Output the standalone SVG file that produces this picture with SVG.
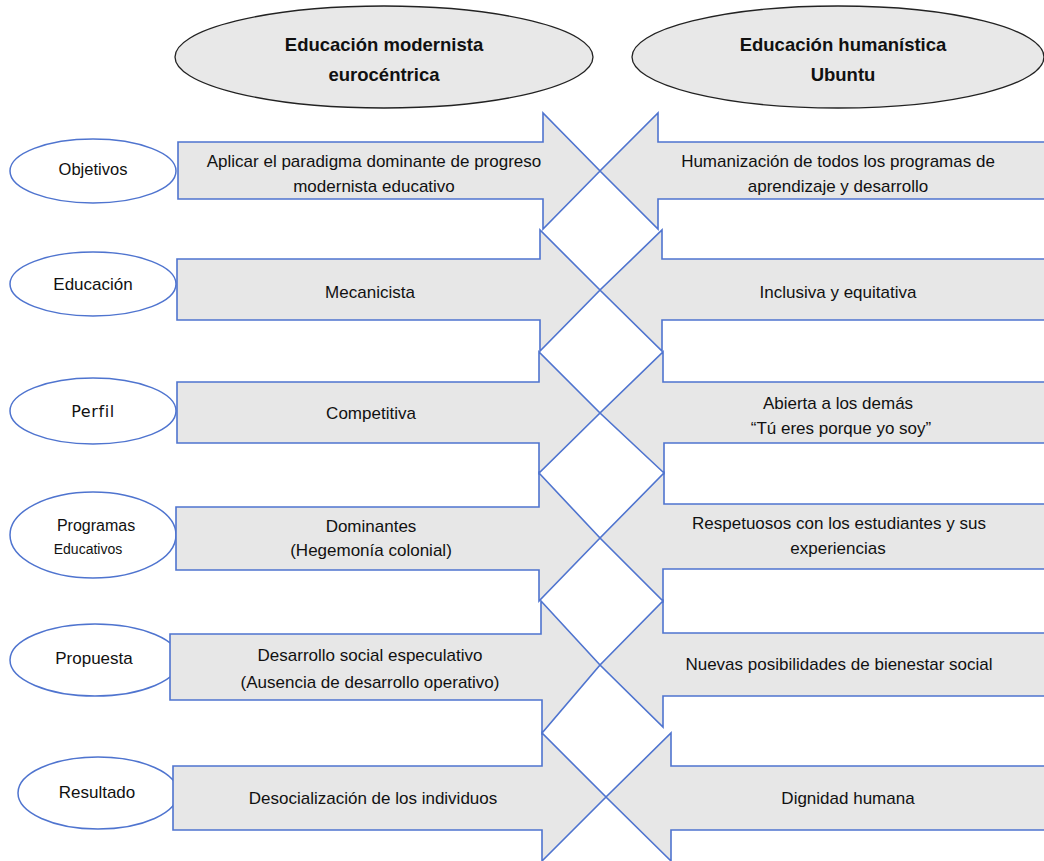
<svg xmlns="http://www.w3.org/2000/svg" xmlns:xlink="http://www.w3.org/1999/xlink" width="1044" height="861" viewBox="0 0 1044 861">
<style>
  .hdr{fill:#e8e8e8;stroke:#222;stroke-width:1.3}
  .cat{fill:#fff;stroke:#4f74cf;stroke-width:1.5}
  .arr{fill:#e7e7e7;stroke:none}
  .out{fill:none;stroke:#4f74cf;stroke-width:1.6;stroke-linejoin:miter}
  text{font-family:"Liberation Sans",Arial,sans-serif;fill:#111;text-anchor:middle}
  .ht{font-weight:bold;font-size:18.5px}
  .bt{font-size:17px}
  .lt{font-size:17px}
</style>
<rect width="1044" height="861" fill="#fff"/>
<defs>
  <path id="pL1" d="M178,142 H543 V113 L600,171 L543,229 V199 H178 Z"/>
  <path id="pL2" d="M177,259 H540 V230 L600,290 L540,351 V320 H177 Z"/>
  <path id="pL3" d="M177,382 H539 V352 L600,413 L539,473 V443 H177 Z"/>
  <path id="pL4" d="M176,507 H539 V473 L600,538 L539,601 V570 H176 Z"/>
  <path id="pL5" d="M170,634 H541 V601 L600,665 L542,733 V700 H170 Z"/>
  <path id="pL6" d="M173,766 H542 V733 L606,797 L542,861 V830 H173 Z"/>
  <path id="pR1" d="M1050,142 H658 V113 L600,171 L658,229 V199 H1050 Z"/>
  <path id="pR2" d="M1050,259 H662 V230 L600,290 L662,351 V320 H1050 Z"/>
  <path id="pR3" d="M1050,382 H663 V352 L600,413 L664,473 V443 H1050 Z"/>
  <path id="pR4" d="M1050,504 H664 V473 L600,538 L663,601 V569 H1050 Z"/>
  <path id="pR5" d="M1050,633 H663 V601 L600,665 L663,727 V696 H1050 Z"/>
  <path id="pR6" d="M1050,766 H671 V733 L606,797 L671,861 V830 H1050 Z"/>
</defs>

<g id="header-left">
  <ellipse class="hdr" cx="384" cy="57" rx="209" ry="51"/>
  <text class="ht" x="384" y="51">Educación  modernista</text>
  <text class="ht" x="384" y="81">eurocéntrica</text>
</g>
<g id="header-right">
  <ellipse class="hdr" cx="838" cy="57" rx="206" ry="51"/>
  <text class="ht" x="843" y="51">Educación  humanística</text>
  <text class="ht" x="843" y="81">Ubuntu</text>
</g>

<g id="cat-objetivos">
  <ellipse class="cat" cx="93" cy="171" rx="83" ry="32"/>
  <text class="lt" x="93" y="175" style="font-size:16.5px">Objetivos</text>
</g>
<g id="cat-educacion">
  <ellipse class="cat" cx="93" cy="284" rx="83" ry="32"/>
  <text class="lt" x="93" y="290">Educación</text>
</g>
<g id="cat-perfil">
  <ellipse class="cat" cx="93" cy="411" rx="83" ry="33"/>
  <text x="93" y="417" style="font-family:'DejaVu Sans',sans-serif;font-size:16px;letter-spacing:0.6px">Perfil</text>
</g>
<g id="cat-programas">
  <ellipse class="cat" cx="93" cy="535" rx="83" ry="43"/>
  <text x="96" y="531" style="font-size:16px">Programas</text>
  <text x="88" y="554" style="font-size:14px">Educativos</text>
</g>
<g id="cat-propuesta">
  <ellipse class="cat" cx="95" cy="660" rx="85" ry="36"/>
  <text class="lt" x="94" y="664">Propuesta</text>
</g>
<g id="cat-resultado">
  <ellipse class="cat" cx="98" cy="793" rx="80" ry="36"/>
  <text class="lt" x="97" y="798">Resultado</text>
</g>

<g id="arrow-l1"><use xlink:href="#pL1" class="arr"/>
  <text class="bt" x="374" y="167">Aplicar el paradigma dominante de progreso</text>
  <text class="bt" x="374" y="192">modernista educativo</text></g>
<g id="arrow-r1"><use xlink:href="#pR1" class="arr"/>
  <text class="bt" x="838" y="167">Humanización de todos los programas de</text>
  <text class="bt" x="838" y="192">aprendizaje y desarrollo</text></g>
<g id="arrow-l2"><use xlink:href="#pL2" class="arr"/>
  <text class="bt" x="370" y="298">Mecanicista</text></g>
<g id="arrow-r2"><use xlink:href="#pR2" class="arr"/>
  <text class="bt" x="838" y="298">Inclusiva  y equitativa</text></g>
<g id="arrow-l3"><use xlink:href="#pL3" class="arr"/>
  <text class="bt" x="371" y="419">Competitiva</text></g>
<g id="arrow-r3"><use xlink:href="#pR3" class="arr"/>
  <text class="bt" x="838" y="409">Abierta a los demás</text>
  <text class="bt" x="841" y="434">“Tú eres porque yo soy”</text></g>
<g id="arrow-l4"><use xlink:href="#pL4" class="arr"/>
  <text class="bt" x="371" y="532">Dominantes</text>
  <text class="bt" x="371" y="556">(Hegemonía colonial)</text></g>
<g id="arrow-r4"><use xlink:href="#pR4" class="arr"/>
  <text class="bt" x="839" y="529">Respetuosos con los estudiantes y sus</text>
  <text class="bt" x="838" y="554">experiencias</text></g>
<g id="arrow-l5"><use xlink:href="#pL5" class="arr"/>
  <text class="bt" x="370" y="661">Desarrollo social  especulativo</text>
  <text class="bt" x="370" y="688">(Ausencia de desarrollo operativo)</text></g>
<g id="arrow-r5"><use xlink:href="#pR5" class="arr"/>
  <text class="bt" x="839" y="670">Nuevas posibilidades de bienestar social</text></g>
<g id="arrow-l6"><use xlink:href="#pL6" class="arr"/>
  <text class="bt" x="373" y="804">Desocialización  de los individuos</text></g>
<g id="arrow-r6"><use xlink:href="#pR6" class="arr"/>
  <text class="bt" x="848" y="804">Dignidad humana</text></g>

<g id="connectors">
  <use xlink:href="#pL1" class="out"/><use xlink:href="#pR1" class="out"/>
  <use xlink:href="#pL2" class="out"/><use xlink:href="#pR2" class="out"/>
  <use xlink:href="#pL3" class="out"/><use xlink:href="#pR3" class="out"/>
  <use xlink:href="#pL4" class="out"/><use xlink:href="#pR4" class="out"/>
  <use xlink:href="#pL5" class="out"/><use xlink:href="#pR5" class="out"/>
  <use xlink:href="#pL6" class="out"/><use xlink:href="#pR6" class="out"/>
</g>
</svg>
